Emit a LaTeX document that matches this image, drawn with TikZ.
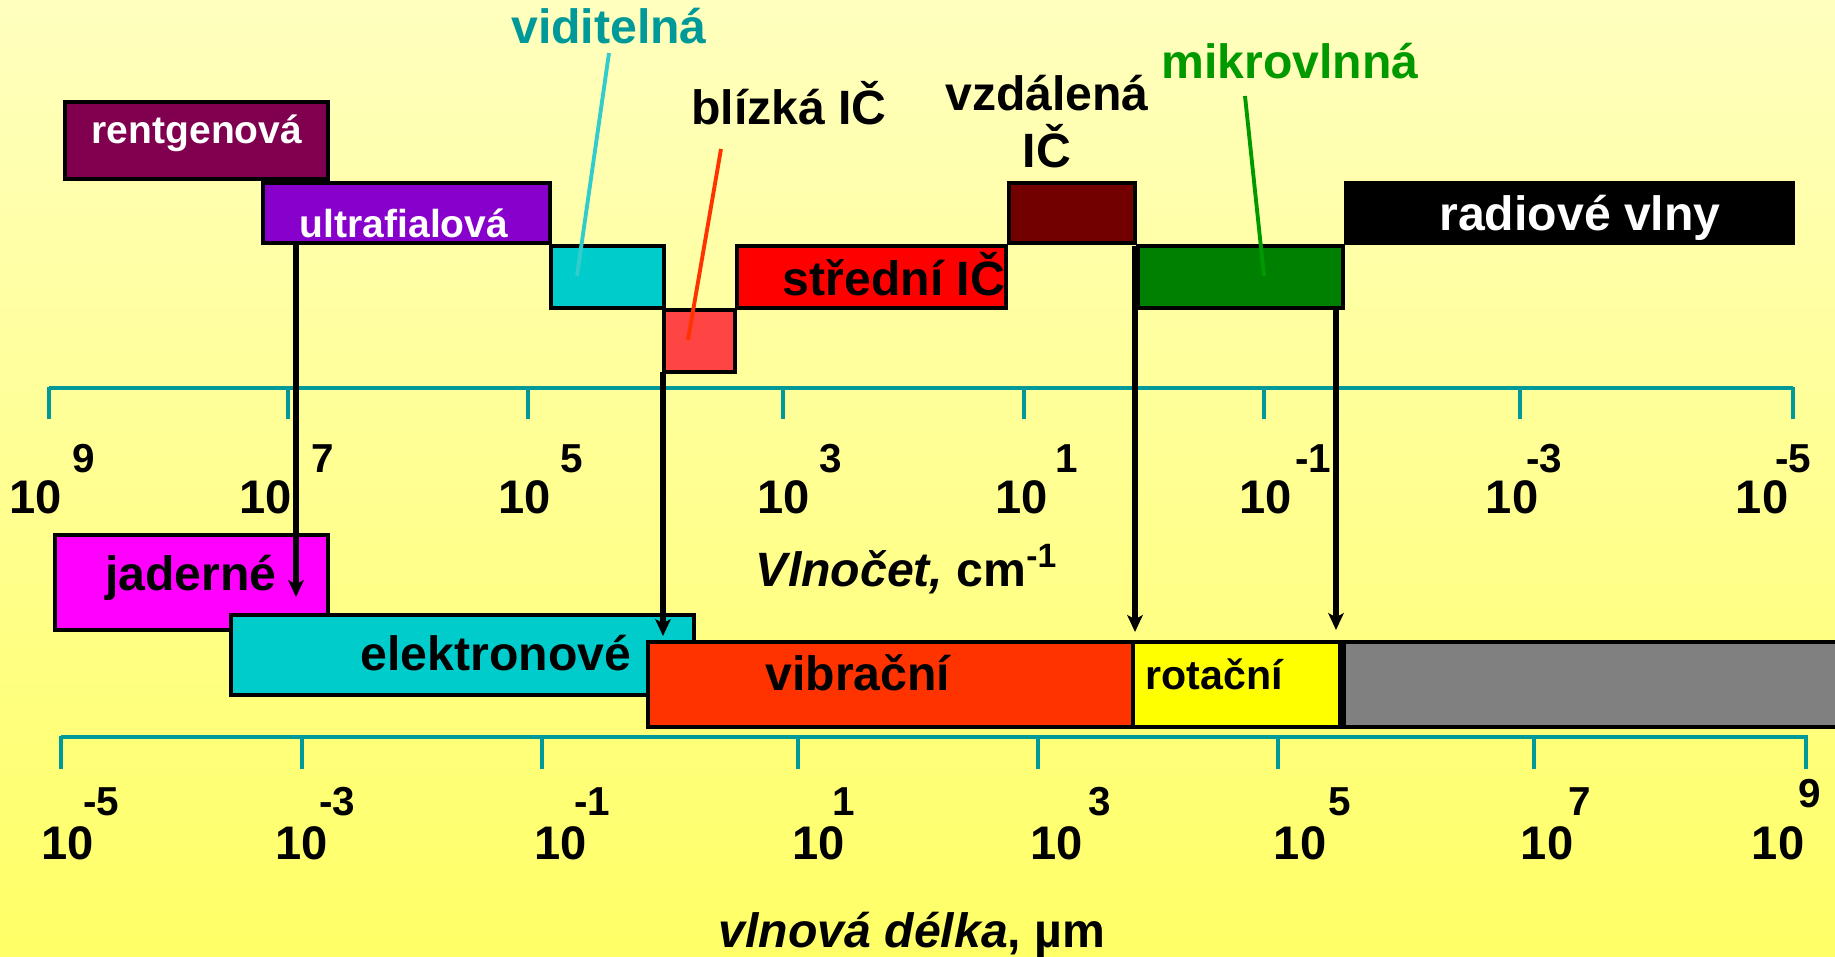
\documentclass[tikz,border=0pt]{standalone}
\usepackage{fontspec}
\setmainfont{Liberation Sans}
\usetikzlibrary{arrows.meta,fit}
\definecolor{bgtop}{HTML}{FFFFBF}
\definecolor{bgbot}{HTML}{FFFF66}
\definecolor{cRent}{HTML}{80004F}
\definecolor{cUltra}{HTML}{8800CC}
\definecolor{cCyan}{HTML}{00CCCC}
\definecolor{cNear}{HTML}{FF4444}
\definecolor{cMid}{HTML}{FF0000}
\definecolor{cFar}{HTML}{730000}
\definecolor{cMicro}{HTML}{008000}
\definecolor{cNucl}{HTML}{FF00FF}
\definecolor{cVib}{HTML}{FF3300}
\definecolor{cRot}{HTML}{FFFF00}
\definecolor{cGray}{HTML}{808080}
\definecolor{cAxis}{HTML}{009999}
\definecolor{cVisLine}{HTML}{33CCCC}
\definecolor{cGreen}{HTML}{009900}
\begin{document}
\begin{tikzpicture}[x=0.01cm,y=-0.01cm,
  band/.style={draw=black,line width=1pt,inner sep=0pt,outer sep=0pt},
  lbl/.style={font=\fontsize{13.7}{16}\selectfont\bfseries,inner sep=0pt,anchor=base},
  smlbl/.style={font=\fontsize{11.1}{13}\selectfont\bfseries,inner sep=0pt,anchor=base},
  rotlbl/.style={font=\fontsize{11.7}{14}\selectfont\bfseries,inner sep=0pt,anchor=base},
  num/.style={font=\fontsize{13.4}{15}\selectfont\bfseries,inner sep=0pt},
  expo/.style={font=\fontsize{11.5}{13}\selectfont\bfseries,inner sep=0pt},
  axisline/.style={draw=cAxis,line width=1.3pt},
  arr/.style={draw=black,line width=1.9pt,-{Stealth[length=4.8pt,width=4.4pt,inset=1.2pt]}},
  pointer/.style={line width=1.1pt}]
\useasboundingbox (0,0) rectangle (1835,957);
\clip (0,0) rectangle (1835,957);
\fill[top color=bgtop,bottom color=bgbot] (0,0) rectangle (1835,957);

% upper bands
\node[band,fill=cRent,fit={(65,102)(328,179)}] (rent) {};
\node[band,fill=cUltra,fit={(263,183)(550,243)}] (ultra) {};
\node[band,fill=cCyan,fit={(551,246)(664,308)}] (vis) {};
\node[band,fill=cNear,fit={(664,310)(735,372)}] (near) {};
\node[band,fill=cMid,fit={(737,246)(1006,308)}] (mid) {};
\node[band,fill=cFar,fit={(1009,183)(1135,243)}] (far) {};
\node[band,fill=cMicro,fit={(1138,246)(1343,308)}] (micro) {};
\node[band,fill=black,fit={(1346,183)(1793,243)}] (radio) {};

\node[smlbl,text=white] (trent) at (197,143) {rentgenová};
\node[smlbl,text=white] (tultra) at (404,237) {ultrafialová};
\node[lbl,text=cAxis] (tvis) at (609,43) {viditelná};
\node[lbl] (tnear) at (789,124) {blízká IČ};
\node[lbl] (tfar1) at (1047,110) {vzdálená};
\node[lbl] (tfar2) at (1047,167) {IČ};
\node[lbl,text=cGreen] (tmicro) at (1290,78) {mikrovlnná};
\node[lbl,text=white] (tradio) at (1580,230) {radiové vlny};
\node[lbl] (tmid) at (894,295) {střední IČ};

% pointer lines
\coordinate (pv1) at (609,53);
\coordinate (pv2) at (577,276);
\coordinate (pn1) at (721,149);
\coordinate (pn2) at (688,340);
\coordinate (pm1) at (1245,96);
\coordinate (pm2) at (1264,276);
\draw[pointer,cVisLine] (pv1) -- (pv2);
\draw[pointer,cVib] (pn1) -- (pn2);
\draw[pointer,cGreen] (pm1) -- (pm2);

% upper axis (wavenumber)
\draw[axisline] (49,388) -- (1793,388);
\foreach \x in {49,288,528,783,1024,1264,1520,1793}
  \draw[axisline] (\x,387) -- (\x,419);
\foreach \x/\e/\n in {36/84/9,266/323/7,525/572/5,784/831/3,1022/1067/1,1266/1313/-1,1512/1544/-3,1762/1793/-5}{
  \node[num] (wn\x) at (\x,497) {10};
  \node[expo] (we\x) at (\e,459) {\n};
}
\node[lbl] (twn) at (907,586) {\textit{Vlnočet,} cm\textsuperscript{-1}};

% lower bands
\node[band,fill=cNucl,fit={(55,535)(328,630)}] (nucl) {};
\node[band,fill=cCyan,fit={(231,615)(694,695)}] (elec) {};
\node[band,fill=cVib,fit={(648,642)(1133,727)}] (vib) {};
\node[band,fill=cRot,fit={(1133,642)(1340,727)}] (rot) {};
\node[band,fill=cGray,fit={(1344,642)(1850,727)}] (rest) {};

\node[lbl] (tnucl) at (191,590) {jaderné};
\node[lbl] (telec) at (496,670) {elektronové};
\node[lbl] (tvib) at (858,690) {vibrační};
\node[rotlbl] (trot) at (1214,689) {rotační};

% lower axis (wavelength)
\draw[axisline] (61,737) -- (1808,737);
\foreach \x in {61,302,542,798,1038,1278,1534,1806}
  \draw[axisline] (\x,736) -- (\x,769);
\foreach \x/\e/\n/\ey in {68/101/-5/802,302/337/-3/802,561/592/-1/802,819/844/1/802,1057/1100/3/802,1300/1340/5/802,1547/1580/7/802,1778/1810/9/794}{
  \node[num] (ln\x) at (\x,843) {10};
  \node[expo] (le\x) at (\e,\ey) {\n};
}
\node[lbl] (twl) at (912,947) {\textit{vlnová délka}, µm};

% arrows
\coordinate (t1) at (296,597);
\coordinate (t2) at (663,636);
\coordinate (t3) at (1135,632);
\coordinate (t4) at (1336,630);
\draw[arr] (ultra.south -| t1) -- (t1);
\draw[arr] (near.south -| t2) -- (t2);
\draw[arr] (micro.north -| t3) -- (t3);
\draw[arr] (micro.south -| t4) -- (t4);
\end{tikzpicture}
\end{document}
